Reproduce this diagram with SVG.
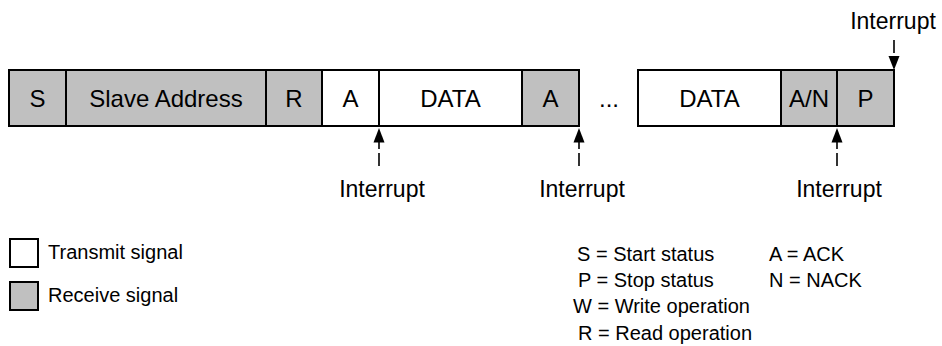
<svg xmlns="http://www.w3.org/2000/svg" width="942" height="346" viewBox="0 0 942 346">
<style>
text{font-family:"Liberation Sans",Arial,sans-serif;fill:#000}
.bx{stroke:#000;stroke-width:2}
.rx{fill:#c0c0c0}
.tx{fill:#fff}
.bt{font-size:24px;text-anchor:middle}
.it{font-size:23px;text-anchor:middle}
.lg{font-size:20px}
.dl{stroke:#000;stroke-width:1.6;fill:none;stroke-dasharray:13 4}
</style>
<g id="frame">
<g id="n-s"><rect class="bx rx" x="9" y="70" width="57" height="56"/><text class="bt" x="37.5" y="107">S</text></g>
<g id="n-addr"><rect class="bx rx" x="66" y="70" width="200" height="56"/><text class="bt" x="166" y="107">Slave Address</text></g>
<g id="n-r"><rect class="bx rx" x="266" y="70" width="56" height="56"/><text class="bt" x="294" y="107">R</text></g>
<g id="n-a1"><rect class="bx tx" x="322" y="70" width="57" height="56"/><text class="bt" x="350.5" y="107">A</text></g>
<g id="n-data1"><rect class="bx tx" x="379" y="70" width="143" height="56"/><text class="bt" x="450.5" y="107">DATA</text></g>
<g id="n-a2"><rect class="bx rx" x="522" y="70" width="57" height="56"/><text class="bt" x="550.5" y="107">A</text></g>
<g id="n-dots"><text class="bt" x="609" y="107">...</text></g>
<g id="n-data2"><rect class="bx tx" x="638" y="70" width="143" height="56"/><text class="bt" x="709.5" y="107">DATA</text></g>
<g id="n-an"><rect class="bx rx" x="781" y="70" width="56" height="56"/><text class="bt" x="809" y="107">A/N</text></g>
<g id="n-p"><rect class="bx rx" x="837" y="70" width="57" height="56"/><text class="bt" x="865.5" y="107">P</text></g>
</g>
<g id="connectors">
<path class="dl" d="M379,166 V142"/><polygon points="379,128 373.5,142.5 384.5,142.5"/>
<path class="dl" d="M579,166 V142"/><polygon points="579,128 573.5,142.5 584.5,142.5"/>
<path class="dl" d="M837,166 V142"/><polygon points="837,128 831.5,142.5 842.5,142.5"/>
<path class="dl" d="M894,36 V57" style="stroke-dasharray:0 4 13 4"/><polygon points="894,70 888.5,56 899.5,56"/>
</g>
<g id="labels">
<text class="it" x="382" y="197">Interrupt</text>
<text class="it" x="582" y="197">Interrupt</text>
<text class="it" x="839" y="197">Interrupt</text>
<text class="it" x="893" y="29">Interrupt</text>
</g>
<g id="legend">
<rect class="bx tx" x="10" y="239" width="28" height="28"/>
<text class="lg" x="48" y="259">Transmit signal</text>
<rect class="bx rx" x="10" y="282" width="28" height="28"/>
<text class="lg" x="48" y="302">Receive signal</text>
<text class="lg" x="577" y="261">S = Start status</text>
<text class="lg" x="578" y="287">P = Stop status</text>
<text class="lg" x="573" y="313">W = Write operation</text>
<text class="lg" x="578" y="340">R = Read operation</text>
<text class="lg" x="769" y="261">A = ACK</text>
<text class="lg" x="769" y="287">N = NACK</text>
</g>
</svg>
